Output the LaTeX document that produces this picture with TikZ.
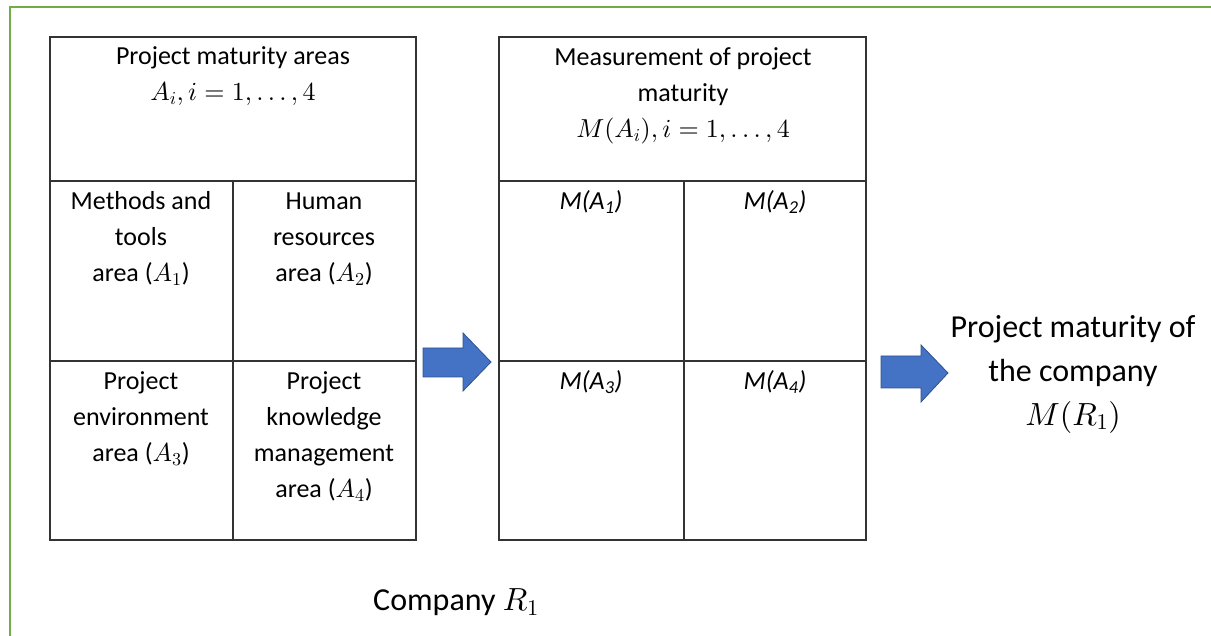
\documentclass[tikz,border=0pt]{standalone}
\usepackage{fontspec}
\setmainfont{Carlito}
\DeclareFontShape{OT1}{cmr}{m}{n}{<->cmr10}{}
\DeclareFontShape{OML}{cmm}{m}{it}{<->cmmi10}{}
\DeclareFontShape{OMS}{cmsy}{m}{n}{<->cmsy10}{}
\DeclareFontShape{OMX}{cmex}{m}{n}{<->cmex10}{}
\begin{document}
\begin{tikzpicture}[x=1pt,y=-1pt,
  cell/.style={draw=black!80, line width=1.2pt},
  txt/.style={align=center, inner sep=0pt, anchor=north, font=\fontsize{26}{36}\selectfont},
  big/.style={align=center, inner sep=0pt, anchor=north, font=\fontsize{32}{44}\selectfont},
  blockarrow/.style={fill={rgb,255:red,68;green,114;blue,196}, draw={rgb,255:red,47;green,82;blue,143}, line width=0.8pt}]
\clip (0,0) rectangle (1211,636);
\draw[draw={rgb,255:red,112;green,173;blue,71}, line width=2.6pt] (10,7) rectangle (1300,700);
% left table
\draw[cell] (50,37) rectangle (416,540);
\draw[cell] (50,181) -- (416,181);
\draw[cell] (50,361) -- (416,361);
\draw[cell] (233,181) -- (233,540);
% right table
\draw[cell] (499,37) rectangle (866,540);
\draw[cell] (499,181) -- (866,181);
\draw[cell] (499,361) -- (866,361);
\draw[cell] (684,181) -- (684,540);
% texts left
\node[txt] (lt) at (233,39.5) {\strut Project maturity areas\\$A_i, i = 1, \ldots, 4$};
\node[txt] (a1) at (141,184.5) {\strut Methods and\\tools\\area ($A_1$)};
\node[txt] (a2) at (324,184.5) {\strut Human\\resources\\area ($A_2$)};
\node[txt] (a3) at (141,364.5) {\strut Project\\environment\\area ($A_3$)};
\node[txt] (a4) at (324,364.5) {\strut Project\\knowledge\\management\\area ($A_4$)};
% texts right
\node[txt] (rt) at (683,40) {\strut Measurement of project\\maturity\\$M(A_i), i = 1, \ldots, 4$};
\node[txt] (m1) at (591,184.5) {\strut\textit{M(A\textsubscript{1})}};
\node[txt] (m2) at (775,184.5) {\strut\textit{M(A\textsubscript{2})}};
\node[txt] (m3) at (591,364.5) {\strut\textit{M(A\textsubscript{3})}};
\node[txt] (m4) at (775,364.5) {\strut\textit{M(A\textsubscript{4})}};
% arrows
\draw[blockarrow] (423,348) -- (463,348) -- (463,333) -- (491,362) -- (463,391) -- (463,377) -- (423,377) -- cycle;
\draw[blockarrow] (881,356) -- (921,356) -- (921,345) -- (948,373) -- (921,402) -- (921,388) -- (881,388) -- cycle;
% result
\node[big] (res) at (1073,306) {\strut Project maturity of\\the company\\$M(R_1)$};
\node[big, anchor=center] (comp) at (456,602) {Company $R_1$};
\end{tikzpicture}
\end{document}
